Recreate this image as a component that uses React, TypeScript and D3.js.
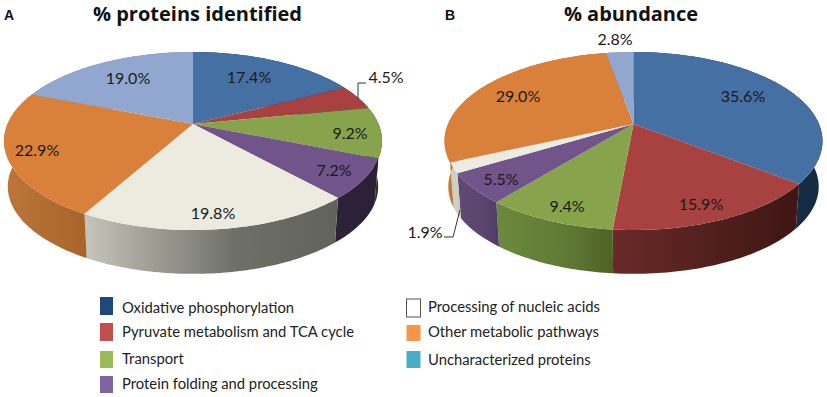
import * as d3 from "d3";

// values as printed on the two pies, clockwise from 12 o'clock
const categories = [
  "Oxidative phosphorylation",
  "Pyruvate metabolism and TCA cycle",
  "Transport",
  "Protein folding and processing",
  "Processing of nucleic acids",
  "Other metabolic pathways",
  "Uncharacterized proteins",
];
const proteinsIdentified = [17.4, 4.5, 9.2, 7.2, 19.8, 22.9, 19.0];
const abundance = [35.6, 15.9, 9.4, 5.5, 1.9, 29.0, 2.8];

const topColors = ["#4570a4", "#a84241", "#87a44c", "#70548a", "#ecebe0", "#d9813a", "#91a7cf"];
// side wall shading, left / middle / right of each slice
const wallsA = [
  ["#1d3550", "#1d3550", "#152a42"],
  ["#6b2a28", "#6b2a28", "#3e1614"],
  ["#2f3a1c", "#2f3a1c", "#2f3a1c"],
  ["#2e2238", "#2c2136", "#2a1f33"],
  ["#c6c5bb", "#6e6f67", "#61625a"],
  ["#bb7638", "#b06c30", "#a8632b"],
  ["#7c90b4", "#7c90b4", "#6c7fa0"],
];
const wallsB = [
  ["#1d3550", "#18304c", "#152a42"],
  ["#6a2a28", "#4e1e1c", "#3e1614"],
  ["#6c8a3e", "#5f7a35", "#4f6128"],
  ["#5f4a75", "#5a456f", "#4f3b63"],
  ["#d0cfc5", "#d0cfc5", "#c6c5bb"],
  ["#c27a36", "#bd7836", "#a8632b"],
  ["#7c90b4", "#7c90b4", "#6c7fa0"],
];
const legendColors = ["#1f497d", "#c0504d", "#9bbb59", "#8064a2", "#ffffff", "#f79646", "#4bacc6"];

// label centres
const labelsA = [[249, 77], [386, 77], [350, 133], [334, 170], [213, 213], [37, 150], [128, 78]];
const labelsB = [[743, 96], [701, 204], [567, 206], [501, 179], [425, 232], [518, 96], [615, 39]];
const leaderA = [[358, 99], [358, 83], [366, 83]];
const leaderB = [[460, 210], [453, 237], [444, 237]];

const legendLeft = [
  { i: 0, y: 297, h: 18, ty: 308 },
  { i: 1, y: 323, h: 18, ty: 332 },
  { i: 2, y: 351, h: 17, ty: 359 },
  { i: 3, y: 376, h: 17, ty: 384 },
];
const legendRight = [
  { i: 4, y: 299, h: 18, ty: 307 },
  { i: 5, y: 325, h: 16, ty: 332 },
  { i: 6, y: 351, h: 17, ty: 360 },
];

const W = 185.5; // disc half width before perspective
const H = 85.75; // disc half height before perspective
const P = 0.191; // perspective strength
const DEPTH = 46;
const BOTTOM_SCALE = 0.98;
const LABEL_FONT = "Lato, sans-serif";
const TITLE_FONT = "Open Sans, sans-serif";

const pieGen = d3.pie<number>().sort(null).startAngle(0).endAngle(2 * Math.PI);
const line = d3.line();

function project(cx: number, cy: number, a: number, s = 1, dy = 0): [number, number] {
  const u = Math.sin(a);
  const v = -Math.cos(a);
  const k = 1 - P * v;
  return [cx + (W * s * u) / k, cy + dy + (H * s * v) / k];
}

function arcPoints(cx: number, cy: number, a0: number, a1: number, s = 1, dy = 0) {
  const n = Math.max(2, Math.ceil((a1 - a0) / 0.02));
  return d3.range(n + 1).map((i) => project(cx, cy, a0 + ((a1 - a0) * i) / n, s, dy));
}

function Pie3D({ id, cx, cy, values, walls }: { id: string; cx: number; cy: number; values: number[]; walls: string[][] }) {
  const arcs = pieGen(values);
  return (
    <g>
      <defs>
        {arcs.map((d, i) => (
          <linearGradient key={i} id={`${id}-wall-${i}`}>
            <stop offset="0" stopColor={walls[i][0]} />
            <stop offset="0.6" stopColor={walls[i][1]} />
            <stop offset="1" stopColor={walls[i][2]} />
          </linearGradient>
        ))}
      </defs>
      {arcs.map((d, i) => {
        const top = arcPoints(cx, cy, d.startAngle, d.endAngle);
        const bottom = arcPoints(cx, cy, d.startAngle, d.endAngle, BOTTOM_SCALE, DEPTH).reverse();
        return <path key={i} d={line([...top, ...bottom]) + "Z"} fill={`url(#${id}-wall-${i})`} />;
      })}
      {arcs.map((d, i) => {
        const top = arcPoints(cx, cy, d.startAngle, d.endAngle);
        return <path key={i} d={line([[cx, cy], ...top]) + "Z"} fill={topColors[i]} />;
      })}
    </g>
  );
}

function Labels({ values, at }: { values: number[]; at: number[][] }) {
  return (
    <g fontFamily={LABEL_FONT} fontSize={16} fill="#1a1a1a" textAnchor="middle">
      {values.map((v, i) => (
        <text key={i} x={at[i][0]} y={at[i][1]} dy="0.36em">
          {v.toFixed(1)}%
        </text>
      ))}
    </g>
  );
}

export default function App() {
  return (
    <svg width={827} height={397} style={{ position: "absolute", left: 0, top: 0, background: "#fff" }}>
      <text x={4} y={19.5} fontFamily="Liberation Sans, sans-serif" fontWeight={700} fontSize={14} fill="#111">A</text>
      <text x={445} y={19.5} fontFamily="Liberation Sans, sans-serif" fontWeight={700} fontSize={14} fill="#111">B</text>
      <text x={197.5} y={21} textAnchor="middle" fontFamily={TITLE_FONT} fontWeight={700} fontSize={20} fill="#111">
        % proteins identified
      </text>
      <text x={631} y={21} textAnchor="middle" fontFamily={TITLE_FONT} fontWeight={700} fontSize={20} fill="#111">
        % abundance
      </text>

      <Pie3D id="a" cx={193} cy={124} values={proteinsIdentified} walls={wallsA} />
      <Pie3D id="b" cx={633.5} cy={124} values={abundance} walls={wallsB} />
      <Labels values={proteinsIdentified} at={labelsA} />
      <Labels values={abundance} at={labelsB} />
      <path d={line(leaderA as [number, number][]) ?? ""} fill="none" stroke="#333" />
      <path d={line(leaderB as [number, number][]) ?? ""} fill="none" stroke="#333" />

      <g fontFamily={LABEL_FONT} fontSize={14.8} fill="#222">
        {legendLeft.map((r) => (
          <g key={r.i}>
            <rect x={100} y={r.y} width={13} height={r.h} fill={legendColors[r.i]} />
            <text x={122} y={r.ty} dy="0.36em">{categories[r.i]}</text>
          </g>
        ))}
        {legendRight.map((r) => (
          <g key={r.i}>
            <rect x={406.5} y={r.y} width={14} height={r.h} fill={legendColors[r.i]} stroke={r.i === 4 ? "#555" : "none"} />
            <text x={428} y={r.ty} dy="0.36em">{categories[r.i]}</text>
          </g>
        ))}
      </g>
    </svg>
  );
}
